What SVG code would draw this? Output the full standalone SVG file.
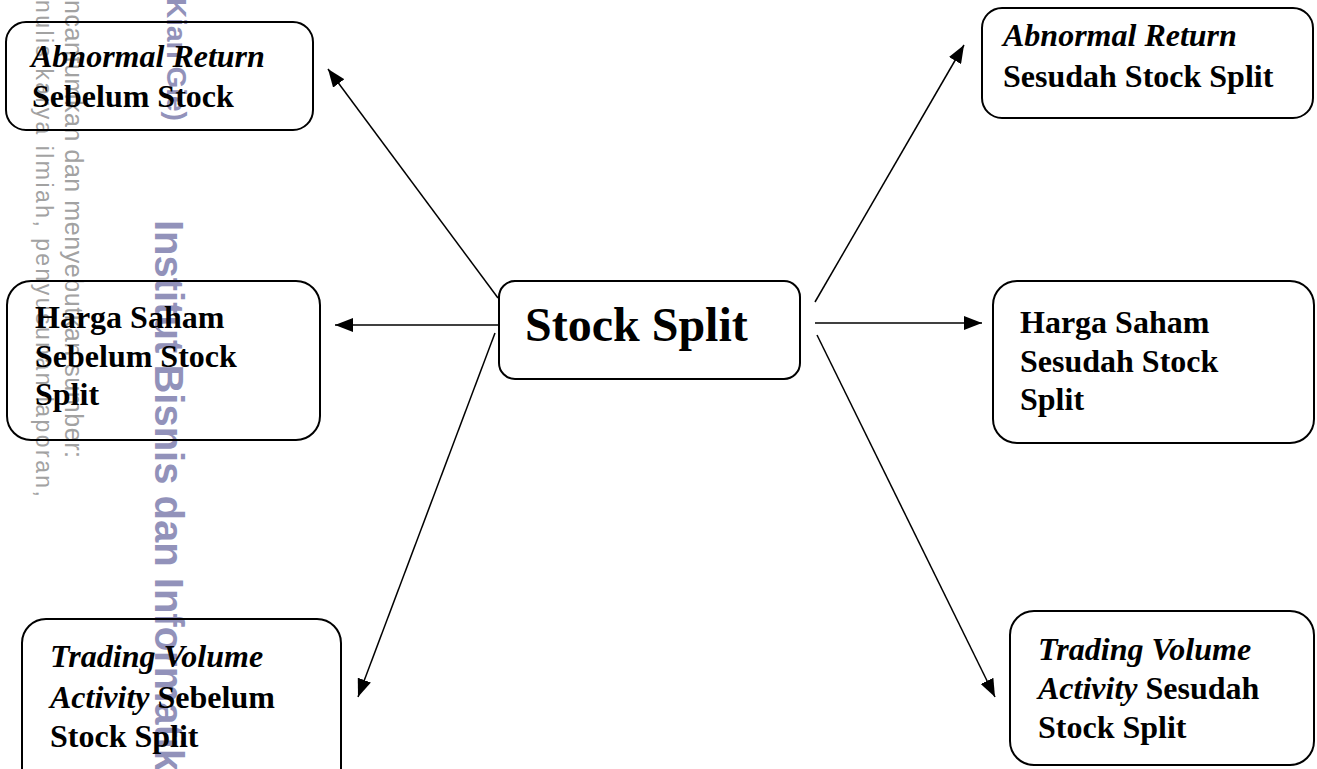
<svg xmlns="http://www.w3.org/2000/svg" width="1317" height="769" viewBox="0 0 1317 769">
  <style>
    .box { fill: none; stroke: #000; stroke-width: 2; }
    .lbl { font-family: "Liberation Serif", "Times New Roman", serif; font-weight: bold; font-size: 32px; fill: #000; }
    .it { font-style: italic; }
    .edge { stroke: #000; stroke-width: 1.5; fill: none; marker-end: url(#arrow); }
    .wm { font-family: "Liberation Sans", Arial, sans-serif; font-weight: bold; fill: #9292ba; }
    .wm-note { font-family: "Liberation Sans", Arial, sans-serif; fill: #a2a2a2; }
  </style>
  <defs>
    <marker id="arrow" markerUnits="userSpaceOnUse" markerWidth="18" markerHeight="14" refX="18" refY="7" orient="auto">
      <path d="M0,0 L18,7 L0,14 z" fill="#000"/>
    </marker>
  </defs>

  <rect width="1317" height="769" fill="#fff"/>

  <!-- vertical watermark text along the left margin -->
  <g id="watermark">
    <text class="wm-note" font-size="23" transform="translate(36,0) rotate(90)" textLength="497" lengthAdjust="spacing">nulis karya ilmiah, penyusunan laporan,</text>
    <text class="wm-note" font-size="25" transform="translate(65,0) rotate(90)" textLength="458" lengthAdjust="spacing">ncantumkan dan menyebutkan sumber:</text>
    <text class="wm" font-size="28" transform="translate(167,-2) rotate(90)">Kian Gie)</text>
    <text class="wm" font-size="40" transform="translate(155,220) rotate(90)">Institut Bisnis dan Informatik</text>
  </g>

  <!-- connectors from the central node -->
  <g id="connectors">
    <line class="edge" x1="498" y1="298" x2="328" y2="69"/>
    <line class="edge" x1="498" y1="325" x2="335" y2="325"/>
    <line class="edge" x1="495" y1="333" x2="358" y2="697"/>
    <line class="edge" x1="815" y1="302" x2="964" y2="45"/>
    <line class="edge" x1="815" y1="323" x2="982" y2="323"/>
    <line class="edge" x1="817" y1="335" x2="995" y2="697"/>
  </g>

  <g id="stock-split">
    <rect class="box" x="499" y="281" width="301" height="98" rx="16"/>
    <text class="lbl" x="525" y="341" style="font-size:48px">Stock Split</text>
  </g>

  <g id="ar-sebelum">
    <rect class="box" x="6" y="22" width="307" height="108" rx="20"/>
    <text class="lbl" x="31" y="67"><tspan class="it">Abnormal Return</tspan></text>
    <text class="lbl" x="32" y="107">Sebelum Stock</text>
  </g>

  <g id="harga-sebelum">
    <rect class="box" x="7" y="281" width="313" height="159" rx="24"/>
    <text class="lbl" x="35" y="328">Harga Saham</text>
    <text class="lbl" x="35" y="367">Sebelum Stock</text>
    <text class="lbl" x="35" y="405">Split</text>
  </g>

  <g id="tva-sebelum">
    <rect class="box" x="22" y="619" width="319" height="175" rx="24"/>
    <text class="lbl" x="50" y="667"><tspan class="it">Trading Volume</tspan></text>
    <text class="lbl" x="50" y="708"><tspan class="it">Activity</tspan> Sebelum</text>
    <text class="lbl" x="50" y="747">Stock Split</text>
  </g>

  <g id="ar-sesudah">
    <rect class="box" x="982" y="8" width="331" height="110" rx="20"/>
    <text class="lbl" x="1003" y="46"><tspan class="it">Abnormal Return</tspan></text>
    <text class="lbl" x="1003" y="87">Sesudah Stock Split</text>
  </g>

  <g id="harga-sesudah">
    <rect class="box" x="993" y="281" width="321" height="162" rx="24"/>
    <text class="lbl" x="1020" y="333">Harga Saham</text>
    <text class="lbl" x="1020" y="372">Sesudah Stock</text>
    <text class="lbl" x="1020" y="410">Split</text>
  </g>

  <g id="tva-sesudah">
    <rect class="box" x="1010" y="611" width="304" height="154" rx="24"/>
    <text class="lbl" x="1038" y="660"><tspan class="it">Trading Volume</tspan></text>
    <text class="lbl" x="1038" y="699"><tspan class="it">Activity</tspan> Sesudah</text>
    <text class="lbl" x="1038" y="738">Stock Split</text>
  </g>
</svg>
